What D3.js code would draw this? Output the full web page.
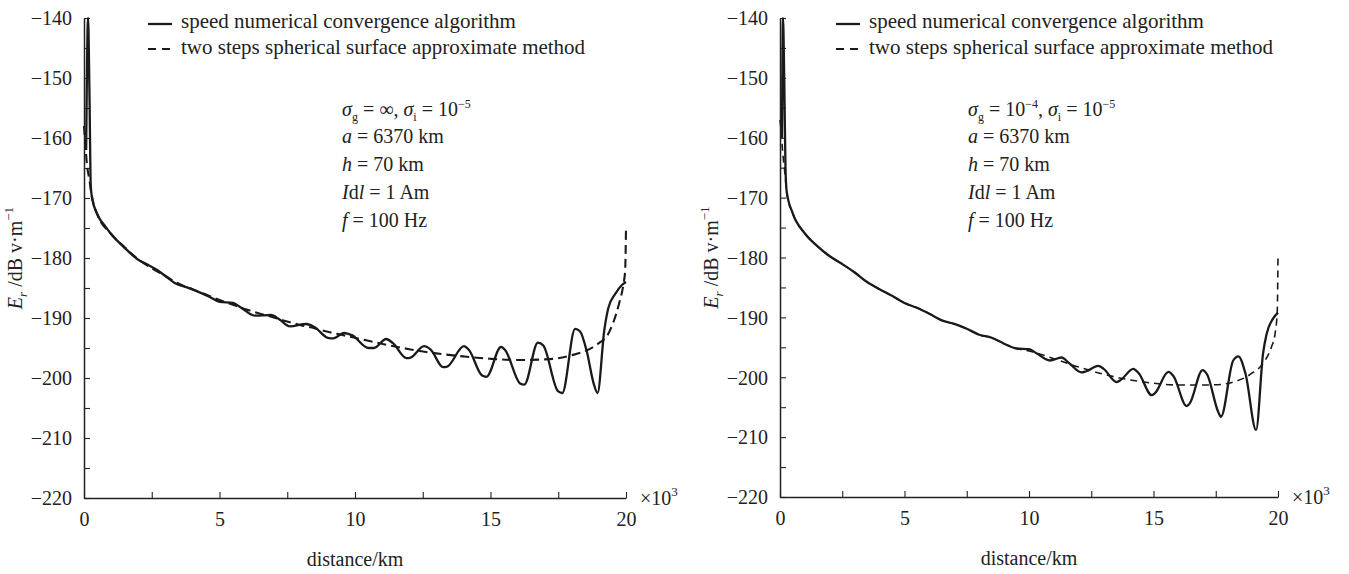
<!DOCTYPE html>
<html><head><meta charset="utf-8">
<script src="https://cdn.jsdelivr.net/npm/d3@7/dist/d3.min.js"></script>
<style>body{margin:0;background:#fff}svg{display:block}text{font-family:"Liberation Serif","Tinos","Times New Roman","DejaVu Serif",serif;fill:#222}</style>
</head><body>
<script>
// ---------- data ----------
const yTicks = [-140,-150,-160,-170,-180,-190,-200,-210,-220];
const xTicks = [0,5,10,15,20];
const legendLabels = ["speed numerical convergence algorithm","two steps spherical surface approximate method"];
const xLabel = "distance/km";

// Left panel (sigma_g = inf)
const leftSolidX = [0.08,0.15,0.2,0.25,0.3,0.5,0.8,1.0,1.5,2.0,2.3,2.7,3.0,3.4,3.8,4.2,4.6,5.0,5.5,5.8,6.3,6.9,7.2,7.6,8.2,8.5,9.0,9.2,9.6,9.9,10.5,10.7,11.15,11.4,11.9,12.05,12.55,12.8,13.25,13.4,14.02,14.2,14.69,14.85,15.39,15.55,16.09,16.25,16.75,16.95,17.49,17.65,18.12,18.3,18.55,18.8,18.95,19.2,19.35,19.6,19.85,20];
const leftSolidY = [-162,-140,-152,-168,-170,-172.8,-174.8,-176,-178.3,-180.3,-181,-182,-183,-184.3,-184.9,-185.6,-186.4,-187.3,-187.5,-188.3,-189.6,-189.5,-190.2,-191.4,-191,-191.5,-193.3,-193.4,-192.5,-192.9,-195,-195,-193.5,-194.2,-196.7,-196.6,-194.7,-195.3,-198.2,-198.1,-194.7,-195.3,-199.6,-199.8,-194.8,-195.4,-200.9,-201.1,-194.1,-194.6,-202.2,-202.5,-191.8,-192.2,-195.5,-200.8,-202.5,-192,-188.3,-186,-184.5,-184];
const leftDashX = [0,0.05,0.1,0.2,0.3,0.5,1,1.5,2,2.5,3,3.5,4,4.5,5,5.5,6,6.5,7,7.5,8,8.5,9,9.5,10,11,12,13,14,15,16,17,17.5,18,18.5,19,19.3,19.55,19.75,19.9,19.97,20];
const leftDashY = [-158,-161,-164,-167,-170,-172.8,-176,-178.2,-180.2,-181.7,-183,-184.3,-185.2,-186.1,-187,-187.8,-188.6,-189.3,-189.9,-190.6,-191.2,-191.7,-192.3,-192.8,-193.3,-194.3,-195.2,-195.9,-196.4,-196.8,-197,-196.9,-196.7,-196.2,-195.5,-194.2,-193,-190.5,-187.5,-184.5,-182,-175];

// Right panel (sigma_g = 1e-4)
const rightSolidX = [0.08,0.12,0.17,0.22,0.27,0.5,1,1.5,2,2.5,3,3.5,4,4.5,5,5.5,6,6.5,7,7.5,8,8.5,9,9.5,10,10.3,10.84,11.31,11.6,12.11,12.3,12.78,13.0,13.52,13.7,14.19,14.4,14.93,15.05,15.6,15.8,16.33,16.45,16.97,17.15,17.6,17.71,18.2,18.41,18.7,19.12,19.4,19.54,19.8,20];
const rightSolidY = [-160,-140,-150,-165,-169,-172.5,-176,-178.1,-179.8,-181.1,-182.5,-184.1,-185.3,-186.4,-187.6,-188.4,-189.4,-190.5,-191.1,-191.9,-192.9,-193.4,-194.4,-195.2,-195.3,-196,-197.2,-196.7,-197.6,-199.2,-199,-198.1,-198.6,-200.8,-200.4,-198.6,-199.3,-203,-202.7,-199.1,-199.8,-204.8,-204.4,-198.8,-199.5,-205.8,-206.6,-197.2,-196.5,-199.5,-208.8,-196,-192.8,-190.2,-189.2];
const rightDashX = [0,0.05,0.1,0.2,0.28,0.5,1,1.5,2,2.5,3,3.5,4,4.5,5,5.5,6,6.5,7,7.5,8,8.5,9,9.5,10,11,12,13,14,15,16,17,17.7,18.2,18.7,19.0,19.3,19.55,19.75,19.88,19.97,20];
const rightDashY = [-157,-159,-162,-166,-169.5,-172.5,-176,-178.1,-179.8,-181.1,-182.5,-184.1,-185.3,-186.4,-187.6,-188.4,-189.4,-190.5,-191.1,-191.9,-192.9,-193.4,-194.4,-195.2,-195.6,-196.9,-198.3,-199.5,-200.4,-201,-201.3,-201.3,-201.2,-200.8,-200,-199.2,-198.2,-196.7,-194.8,-192.8,-189,-180];

const leftSigma = ["∞", "10", "−5"];
const rightSigma = ["10", "−4", "−5"];
const paramLines = [["a"," = 6370 km"],["h"," = 70 km"],["I","d","l"," = 1 Am"],["f"," = 100 Hz"]];

// ---------- drawing ----------
const FONT = '"Liberation Serif","Tinos","Times New Roman","DejaVu Serif",serif';
const W = 1349, H = 574;
const svg = d3.select("body").append("svg").attr("width",W).attr("height",H);
svg.append("rect").attr("width",W).attr("height",H).attr("fill","#fff");

const panels = [
  {x0:84, x1:626, y0:18, y1:498, sx:leftSolidX, sy:leftSolidY, dx:leftDashX, dy:leftDashY, legX:148, annX:342, sigma:leftSigma, right:false, dash:"9,5", dw:2.1},
  {x0:780, x1:1278, y0:18, y1:497, sx:rightSolidX, sy:rightSolidY, dx:rightDashX, dy:rightDashY, legX:836, annX:968, sigma:rightSigma, right:true, dash:"7,5", dw:1.6}
];

panels.forEach(p => {
  const g = svg.append("g");
  const x = d3.scaleLinear().domain([0,20]).range([p.x0,p.x1]);
  const y = d3.scaleLinear().domain([-220,-140]).range([p.y1,p.y0]);

  const ya = g.append("g").attr("transform",`translate(${p.x0},0)`)
    .call(d3.axisLeft(y).tickValues(yTicks).tickSizeInner(-6).tickSizeOuter(0).tickPadding(12)
      .tickFormat(d => d3.format("d")(d).replace("-","−")));
  const yaMinor = g.append("g").attr("transform",`translate(${p.x0},0)`)
    .call(d3.axisLeft(y).tickValues(d3.range(-215,-140,10)).tickSizeInner(-6).tickSizeOuter(0).tickFormat(""));
  yaMinor.select(".domain").remove();
  const xa = g.append("g").attr("transform",`translate(0,${p.y1})`)
    .call(d3.axisBottom(x).tickValues(xTicks).tickSizeInner(-6).tickSizeOuter(0).tickPadding(14));
  const xaMinor = g.append("g").attr("transform",`translate(0,${p.y1})`)
    .call(d3.axisBottom(x).tickValues([2.5,7.5,12.5,17.5]).tickSizeInner(-6).tickSizeOuter(0).tickFormat(""));
  xaMinor.select(".domain").remove();
  g.selectAll("g").attr("font-family",FONT);
  g.selectAll(".domain").attr("stroke","#222").attr("stroke-width",1.5);
  g.selectAll(".tick line").attr("stroke","#222").attr("stroke-width",1.1);
  g.selectAll(".tick text").attr("font-size",20).style("font-family",FONT).attr("fill","#222");
  ya.selectAll(".tick text").attr("dy","0.34em");

  const mult = g.append("text").attr("x",p.x1+14).attr("y",p.y1+7).attr("font-size",20);
  mult.append("tspan").text("×10");
  mult.append("tspan").attr("font-size",13).attr("dy",-9).text("3");

  g.append("text").attr("x",x(10)).attr("y",p.y1+68).attr("text-anchor","middle").attr("font-size",20).text(xLabel);

  const yl = g.append("text").attr("transform",`translate(${p.x0-62},${(p.y0+p.y1)/2}) rotate(-90)`)
    .attr("text-anchor","middle").attr("font-size",20);
  yl.append("tspan").attr("font-style","italic").text("E");
  yl.append("tspan").attr("font-style","italic").attr("font-size",13).attr("dy",5).text("r");
  yl.append("tspan").attr("dy",-5).text(" /dB v·m");
  yl.append("tspan").attr("font-size",13).attr("dy",-9).text("−1");

  const line = d3.line().x(d=>x(d[0])).y(d=>y(d[1])).curve(d3.curveMonotoneX);
  const dashData = p.dx.map((v,i)=>[v,p.dy[i]]);
  const solidData = p.sx.map((v,i)=>[v,p.sy[i]]);
  g.append("path").attr("d",line(dashData)).attr("fill","none").attr("stroke","#1a1a1a")
    .attr("stroke-width",p.dw).attr("stroke-dasharray",p.dash);
  g.append("path").attr("d",line(solidData)).attr("fill","none").attr("stroke","#1a1a1a")
    .attr("stroke-width",2.3).attr("stroke-linejoin","round");

  const lg = g.append("g");
  lg.append("line").attr("x1",p.legX).attr("x2",p.legX+24).attr("y1",24).attr("y2",24)
    .attr("stroke","#1a1a1a").attr("stroke-width",2.3);
  lg.append("line").attr("x1",p.legX).attr("x2",p.legX+24).attr("y1",49).attr("y2",49)
    .attr("stroke","#1a1a1a").attr("stroke-width",1.8).attr("stroke-dasharray","8,6");
  lg.append("text").attr("x",p.legX+33).attr("y",28).attr("font-size",21).text(legendLabels[0]);
  lg.append("text").attr("x",p.legX+33).attr("y",54).attr("font-size",21).text(legendLabels[1]);

  const a0 = g.append("text").attr("x",p.annX).attr("y",116).attr("font-size",20);
  a0.append("tspan").attr("font-style","italic").text("σ");
  a0.append("tspan").attr("font-size",12).attr("dy",5).text("g");
  if (!p.right) {
    a0.append("tspan").attr("dy",-5).text(" = " + p.sigma[0] + ", ");
  } else {
    a0.append("tspan").attr("dy",-5).text(" = " + p.sigma[0]);
    a0.append("tspan").attr("font-size",12).attr("dy",-8).text(p.sigma[1]);
    a0.append("tspan").attr("dy",8).text(", ");
  }
  a0.append("tspan").attr("font-style","italic").text("σ");
  a0.append("tspan").attr("font-size",12).attr("dy",5).text("i");
  if (!p.right) {
    a0.append("tspan").attr("dy",-5).text(" = " + p.sigma[1]);
  } else {
    a0.append("tspan").attr("dy",-5).text(" = 10");
  }
  a0.append("tspan").attr("font-size",12).attr("dy",-8).text(p.sigma[2]);

  paramLines.forEach((pl,i) => {
    const t = g.append("text").attr("x",p.annX).attr("y",143+28*i).attr("font-size",20);
    t.append("tspan").attr("font-style","italic").text(pl[0]);
    t.append("tspan").text(pl[1]);
    if (pl.length === 4) {
      t.append("tspan").attr("font-style","italic").text(pl[2]);
      t.append("tspan").text(pl[3]);
    }
  });
});
</script>
</body></html>
